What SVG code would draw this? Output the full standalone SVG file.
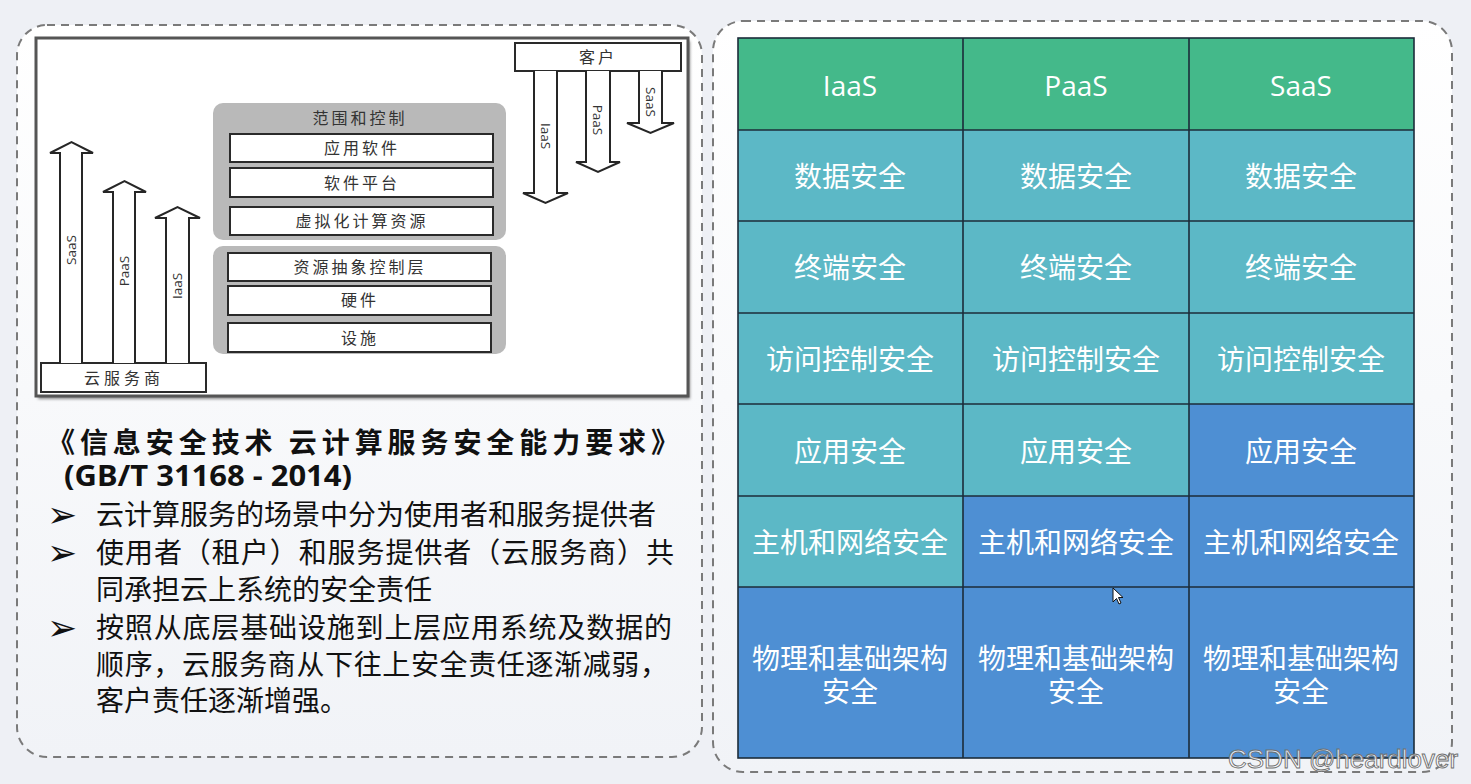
<svg xmlns="http://www.w3.org/2000/svg" width="1471" height="784" viewBox="0 0 1471 784">
<defs>
<linearGradient id="panelg" x1="0" y1="0" x2="0" y2="1">
<stop offset="0" stop-color="#ffffff"/>
<stop offset="1" stop-color="#f1f3f7"/>
</linearGradient>
<filter id="sh" x="-5%" y="-5%" width="110%" height="110%">
<feGaussianBlur stdDeviation="1.5"/>
</filter>
<style>
.panel{fill:url(#panelg);stroke:#7a7a7a;stroke-width:2;stroke-dasharray:8 6}
.box{fill:#fff;stroke:#2a2a2a;stroke-width:2}
.grp{fill:#b9b9b9}
.arr{fill:#fff;stroke:#262626;stroke-width:2;stroke-linejoin:miter}
.lt{font-family:"Noto Sans CJK SC","Noto Sans",sans-serif;font-size:16px;fill:#333;text-anchor:middle;letter-spacing:3px}
.al{font-family:"Open Sans","DejaVu Sans",sans-serif;font-size:13.5px;fill:#333;text-anchor:middle}
.body{font-family:"Noto Sans CJK SC",sans-serif;font-size:28px;fill:#111}
.ttl{font-family:"Noto Sans CJK SC",sans-serif;font-size:28px;font-weight:bold;fill:#111}
.bul{font-family:"DejaVu Sans",sans-serif;font-size:36px;fill:#111}
.g{fill:#44b98a}
.t{fill:#5cb8c6}
.b{fill:#4e8fd3}
.ct{font-family:"Noto Sans CJK SC",sans-serif;font-size:28px;fill:#fff;text-anchor:middle}
.ht{font-family:"Open Sans",sans-serif;font-size:28px;fill:#fff;text-anchor:middle}
.gl{stroke:#1c2c3a;stroke-width:1.6;fill:none}
</style>
</defs>
<rect x="0" y="0" width="1471" height="784" fill="#eef0f5"/>
<rect class="panel" x="17" y="25" width="685" height="732" rx="30"/>
<rect class="panel" x="713" y="21" width="739" height="751" rx="30"/>

<g id="model-image">
<rect x="38" y="41" width="652" height="358" fill="#888" filter="url(#sh)"/>
<rect x="36" y="38" width="652" height="358" fill="#fff" stroke="#555" stroke-width="3"/>
<g id="customer">
<rect class="box" x="515" y="43" width="166" height="28"/>
<text class="lt" x="598" y="63">客户</text>
</g>
<g id="provider">
<rect class="box" x="41" y="363" width="165" height="29"/>
<text class="lt" x="124" y="384" style="letter-spacing:4px">云服务商</text>
</g>
<g id="scope-upper">
<rect class="grp" x="213" y="103" width="293" height="137" rx="10"/>
<text class="lt" x="360" y="124">范围和控制</text>
<rect class="box" x="230" y="134" width="263" height="28"/>
<text class="lt" x="362" y="154">应用软件</text>
<rect class="box" x="230" y="168" width="263" height="29"/>
<text class="lt" x="362" y="189">软件平台</text>
<rect class="box" x="230" y="207" width="263" height="28"/>
<text class="lt" x="362" y="227">虚拟化计算资源</text>
</g>
<g id="scope-lower">
<rect class="grp" x="213" y="246" width="293" height="108" rx="10"/>
<rect class="box" x="228" y="253" width="263" height="28"/>
<text class="lt" x="360" y="273">资源抽象控制层</text>
<rect class="box" x="228" y="286" width="263" height="29"/>
<text class="lt" x="360" y="306">硬件</text>
<rect class="box" x="228" y="323" width="263" height="29"/>
<text class="lt" x="360" y="344">设施</text>
</g>
<g id="connectors">
<path class="arr" d="M60 363 V153 H50 L71.5 142 L93 153 H82 V363"/>
<path class="arr" d="M113 363 V192 H103 L124.5 181 L146 192 H135 V363"/>
<path class="arr" d="M166 363 V218 H155 L177.5 207 L200 218 H189 V363"/>
<path class="arr" d="M534 71 V193 H523 L545.5 203 L568 193 H557 V71"/>
<path class="arr" d="M586 71 V162 H576 L598 172 L620 162 H610 V71"/>
<path class="arr" d="M639 71 V123 H627 L650.5 133 L674 123 H662 V71"/>
<text class="al" transform="translate(76,250) rotate(-90)">SaaS</text>
<text class="al" transform="translate(129,271) rotate(-90)">PaaS</text>
<text class="al" transform="translate(182,286) rotate(-90)">IaaS</text>
<text class="al" transform="translate(541,136) rotate(90)">IaaS</text>
<text class="al" transform="translate(593,120) rotate(90)">PaaS</text>
<text class="al" transform="translate(646,102) rotate(90)">SaaS</text>
</g>
</g>

<g id="standard-text">
<text class="ttl" x="47" y="453" textLength="632" lengthAdjust="spacing">《信息安全技术  云计算服务安全能力要求》</text>
<text class="ttl" x="64" y="486" style="font-family:'Noto Sans',sans-serif" textLength="288" lengthAdjust="spacingAndGlyphs">(GB/T 31168 - 2014)</text>
<text class="bul" x="47" y="527">➢</text>
<text class="body" x="96" y="525">云计算服务的场景中分为使用者和服务提供者</text>
<text class="bul" x="47" y="565">➢</text>
<text class="body" x="96" y="563" textLength="578" lengthAdjust="spacing">使用者（租户）和服务提供者（云服务商）共</text>
<text class="body" x="96" y="600">同承担云上系统的安全责任</text>
<text class="bul" x="47" y="640">➢</text>
<text class="body" x="96" y="638" textLength="576" lengthAdjust="spacing">按照从底层基础设施到上层应用系统及数据的</text>
<text class="body" x="96" y="675" textLength="572" lengthAdjust="spacing">顺序，云服务商从下往上安全责任逐渐减弱，</text>
<text class="body" x="96" y="711">客户责任逐渐增强。</text>
</g>

<g id="security-table">
<rect class="g" x="738" y="38" width="676" height="92"/>
<rect class="t" x="738" y="130" width="676" height="274"/>
<rect class="t" x="738" y="404" width="451" height="92"/>
<rect class="b" x="1189" y="404" width="225" height="92"/>
<rect class="t" x="738" y="496" width="225" height="91"/>
<rect class="b" x="963" y="496" width="451" height="91"/>
<rect class="b" x="738" y="587" width="676" height="171"/>
<g class="gl">
<rect x="738" y="38" width="676" height="720"/>
<path d="M963 38 V758 M1189 38 V758 M738 130 H1414 M738 221 H1414 M738 313 H1414 M738 404 H1414 M738 496 H1414 M738 587 H1414"/>
</g>
<text class="ht" x="850" y="96">IaaS</text>
<text class="ht" x="1076" y="96">PaaS</text>
<text class="ht" x="1301" y="96">SaaS</text>
<text class="ct" x="850" y="187">数据安全</text>
<text class="ct" x="1076" y="187">数据安全</text>
<text class="ct" x="1301" y="187">数据安全</text>
<text class="ct" x="850" y="278">终端安全</text>
<text class="ct" x="1076" y="278">终端安全</text>
<text class="ct" x="1301" y="278">终端安全</text>
<text class="ct" x="850" y="370">访问控制安全</text>
<text class="ct" x="1076" y="370">访问控制安全</text>
<text class="ct" x="1301" y="370">访问控制安全</text>
<text class="ct" x="850" y="462">应用安全</text>
<text class="ct" x="1076" y="462">应用安全</text>
<text class="ct" x="1301" y="462">应用安全</text>
<text class="ct" x="850" y="553">主机和网络安全</text>
<text class="ct" x="1076" y="553">主机和网络安全</text>
<text class="ct" x="1301" y="553">主机和网络安全</text>
<text class="ct" x="850" y="669"><tspan x="850">物理和基础架构</tspan><tspan x="850" dy="33">安全</tspan></text>
<text class="ct" x="1076" y="669"><tspan x="1076">物理和基础架构</tspan><tspan x="1076" dy="33">安全</tspan></text>
<text class="ct" x="1301" y="669"><tspan x="1301">物理和基础架构</tspan><tspan x="1301" dy="33">安全</tspan></text>
<path d="M1113 588 L1113 602 L1116.5 598.5 L1119 604 L1121 603 L1118.5 597.5 L1123 597.5 Z" fill="#fff" stroke="#111" stroke-width="1"/>
</g>
<text x="1228" y="768" style="font-family:'Liberation Sans',sans-serif;font-size:26px;fill:#fff;fill-opacity:0.8;stroke:#6f6f6f;stroke-width:0.9">CSDN @heardlover</text>
</svg>
